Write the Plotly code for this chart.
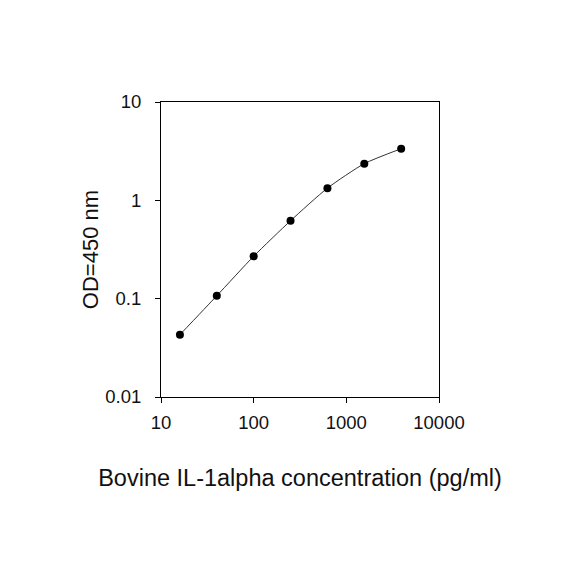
import plotly.graph_objects as go

# =========================
# DATA
# =========================
concentration = [16, 40, 100, 250, 625, 1562.5, 3906.25]   # pg/ml
od_450 = [0.043, 0.107, 0.27, 0.62, 1.33, 2.36, 3.35]

x_ticks = [10, 100, 1000, 10000]
y_ticks = [0.01, 0.1, 1, 10]
y_tick_labels = ["0.01", "0.1", "1", "10"]

# =========================
# STYLE
# =========================
FONT = "Liberation Sans, Arial"
AXIS_COLOR = "#000000"

fig = go.Figure()

fig.add_trace(go.Scatter(
    x=concentration,
    y=od_450,
    mode="lines+markers",
    line=dict(color="#333333", width=1, shape="spline", smoothing=0.6),
    marker=dict(color="#000000", size=8),
    showlegend=False
))

axis_common = dict(
    showline=True,
    linecolor=AXIS_COLOR,
    linewidth=1,
    mirror=True,
    showgrid=False,
    zeroline=False,
    ticks="outside",
    ticklen=5,
    tickcolor=AXIS_COLOR,
    tickfont=dict(family=FONT, size=18.5, color="#111111"),
)

fig.update_layout(
    width=584,
    height=584,
    paper_bgcolor="white",
    plot_bgcolor="white",
    margin=dict(l=153, r=153, t=94, b=195),
    xaxis=dict(
        type="log",
        range=[1, 4],
        tickvals=x_ticks,
        ticktext=[str(v) for v in x_ticks],
        ticklabelstandoff=4,
        title=dict(
            text="Bovine IL-1alpha concentration (pg/ml)",
            font=dict(family=FONT, size=23.5, color="#111111"),
            standoff=37,
        ),
        **axis_common
    ),
    yaxis=dict(
        type="log",
        range=[-2, 1],
        tickvals=y_ticks,
        ticktext=y_tick_labels,
        ticklabelstandoff=10,
        title=dict(
            text="OD=450 nm",
            font=dict(family=FONT, size=22, color="#111111"),
            standoff=0,
        ),
        **axis_common
    ),
)

fig.write_html("out.html")
